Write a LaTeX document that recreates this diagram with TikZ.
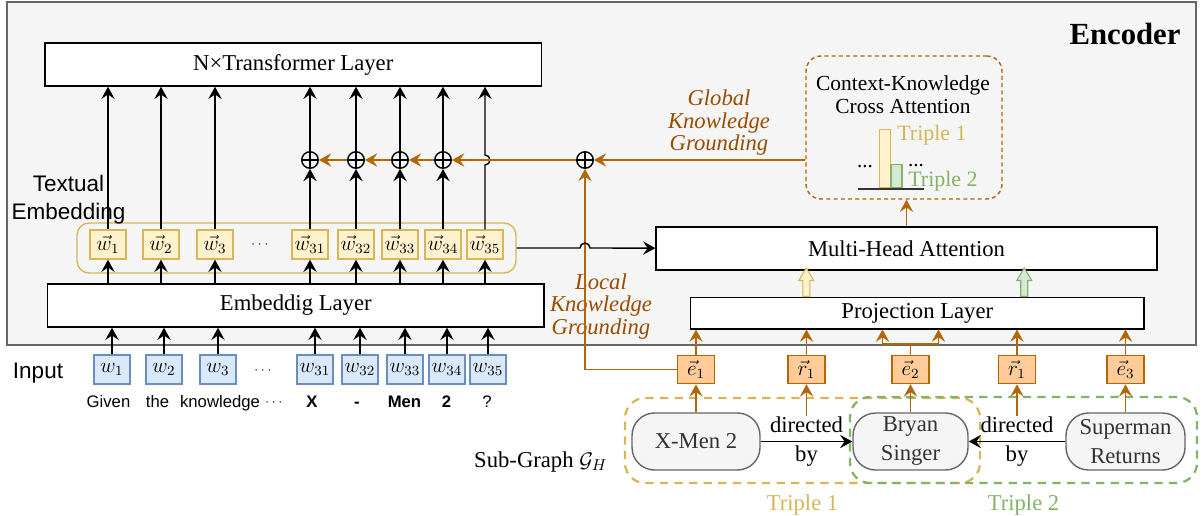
\documentclass[tikz,border=0pt]{standalone}
\usepackage{fontspec}
\setmainfont{Liberation Serif}
\setsansfont{Liberation Sans}
\usepackage{amsmath}
\usetikzlibrary{arrows.meta,positioning}

\definecolor{encbg}{HTML}{F5F5F5}
\definecolor{encline}{HTML}{666666}
\definecolor{kgbrown}{HTML}{B46504}
\definecolor{kgtext}{HTML}{994C00}
\definecolor{yfill}{HTML}{FFF2CC}
\definecolor{yline}{HTML}{D6B656}
\definecolor{bfill}{HTML}{DAE8FC}
\definecolor{bline}{HTML}{6C8EBF}
\definecolor{gfill}{HTML}{D5E8D4}
\definecolor{gline}{HTML}{82B366}
\definecolor{ofill}{HTML}{FFCC99}

\begin{document}
\begin{tikzpicture}[x=0.02cm, y=-0.02cm, node distance=1cm, line width=0.8pt,
   >={Stealth[length=7pt,width=7.6pt,inset=2.6pt]}]
\tikzset{
   layer/.style={rectangle, draw=black, fill=white, line width=0.8pt, minimum width=9.93cm, minimum height=0.86cm, font=\fontsize{12.9}{15}\selectfont},
   wvec/.style={rectangle, draw=yline, fill=yfill, minimum width=0.72cm, minimum height=0.58cm, inner sep=0pt, font=\fontsize{11.5}{13}\selectfont},
   wtok/.style={rectangle, draw=bline, fill=bfill, minimum width=0.72cm, minimum height=0.58cm, inner sep=0pt, font=\fontsize{11.5}{13}\selectfont},
   kgvec/.style={rectangle, draw=kgbrown, fill=ofill, minimum width=0.74cm, minimum height=0.56cm, inner sep=0pt, font=\fontsize{11.5}{13}\selectfont},
   entity/.style={rectangle, rounded corners=0.45cm, draw=encline, fill=encbg, minimum height=1.14cm, inner sep=0pt, align=center, text=black!80, font=\fontsize{12.9}{16.5}\selectfont},
   rel/.style={inner sep=0pt, align=center, font=\fontsize{12.9}{16.5}\selectfont},
   word/.style={anchor=base, font=\sffamily\fontsize{9.5}{11}\selectfont},
   oplus/.style={circle, draw=black, fill=encbg, inner sep=0pt, minimum size=0.33cm, path picture={\draw[line width=0.7pt] (path picture bounding box.north) -- (path picture bounding box.south) (path picture bounding box.west) -- (path picture bounding box.east);}},
   kgarrow/.style={->, draw=kgbrown},
   kglabel/.style={align=center, text=kgtext, font=\itshape\fontsize{12.9}{12.8}\selectfont},
   triple/.style={rectangle, rounded corners=0.4cm, dash pattern=on 4.7pt off 3.6pt, line width=1.3pt},
   hollow/.style={line width=0.6pt},
}
\useasboundingbox (0,0) rectangle (1203,515);

% encoder frame
\node[rectangle, draw=encline, fill=encbg, line width=0.9pt, minimum width=23.78cm, minimum height=6.86cm] (encoder) at (601.5,173.5) {};
\node[anchor=base, font=\bfseries\fontsize{17.5}{20}\selectfont] (enctitle) at (1125,44.3) {Encoder};

% text side
\node[layer] (trans) at (293.25,64.5) {N×Transformer Layer};
\node[layer] (embed) at (295.75,305.5) {Embeddig Layer};
\node[rectangle, rounded corners=0.24cm, draw=yline, line width=0.8pt, minimum width=8.78cm, minimum height=1cm] (embgroup) at (296.5,248) {};
\node[align=center, font=\sffamily\fontsize{12.8}{16.3}\selectfont] (textemb) at (68.5,199.5) {Textual\\Embedding};

\node[wvec] (w1) at (108,244.5) {$\vec{w}_1$};
\node[wvec] (w2) at (161,244.5) {$\vec{w}_2$};
\node[wvec] (w3) at (215,244.5) {$\vec{w}_3$};
\node[font=\fontsize{7}{8}\selectfont] (wdots) at (261,244.5) {$\cdots$};
\node[wvec] (w31) at (310,244.5) {$\vec{w}_{31}$};
\node[wvec] (w32) at (356,244.5) {$\vec{w}_{32}$};
\node[wvec] (w33) at (400,244.5) {$\vec{w}_{33}$};
\node[wvec] (w34) at (443,244.5) {$\vec{w}_{34}$};
\node[wvec] (w35) at (485,244.5) {$\vec{w}_{35}$};

\node[oplus] (p31) at (310,160) {};
\node[oplus] (p32) at (356,160) {};
\node[oplus] (p33) at (400,160) {};
\node[oplus] (p34) at (443,160) {};
\node[oplus] (pkg) at (585,160) {};

\node[anchor=base, font=\sffamily\fontsize{12.8}{15}\selectfont] (inputlbl) at (38,378) {Input};
\node[wtok] (in1) at (112,369.5) {$w_1$};
\node[wtok] (in2) at (164,369.5) {$w_2$};
\node[wtok] (in3) at (218,369.5) {$w_3$};
\node[font=\fontsize{7}{8}\selectfont] (indots) at (264,371) {$\cdots$};
\node[wtok] (in31) at (315,369.5) {$w_{31}$};
\node[wtok] (in32) at (360,369.5) {$w_{32}$};
\node[wtok] (in33) at (405,369.5) {$w_{33}$};
\node[wtok] (in34) at (447,369.5) {$w_{34}$};
\node[wtok] (in35) at (488,369.5) {$w_{35}$};

\node[word] (tk1) at (108.5,407.5) {Given};
\node[word] (tk2) at (157.5,407.5) {the};
\node[word] (tk3) at (220,407.5) {knowledge};
\node[font=\fontsize{7}{8}\selectfont] (tkdots) at (275,402.5) {$\cdots$};
\node[word] (tk31) at (312,407.5) {\bfseries X};
\node[word] (tk32) at (357,407.5) {\bfseries -};
\node[word] (tk33) at (404.5,407.5) {\bfseries Men};
\node[word] (tk34) at (446.5,407.5) {\bfseries 2};
\node[word] (tk35) at (487,407.5) {?};

\draw[->] (in1) -- (in1 |- embed.south);
\draw[->] (in2) -- (in2 |- embed.south);
\draw[->] (in3) -- (in3 |- embed.south);
\draw[->] (in31) -- (in31 |- embed.south);
\draw[->] (in32) -- (in32 |- embed.south);
\draw[->] (in33) -- (in33 |- embed.south);
\draw[->] (in34) -- (in34 |- embed.south);
\draw[->] (in35) -- (in35 |- embed.south);

\draw[->] (embed.north -| w1) -- (w1);
\draw[->] (embed.north -| w2) -- (w2);
\draw[->] (embed.north -| w3) -- (w3);
\draw[->] (embed.north -| w31) -- (w31);
\draw[->] (embed.north -| w32) -- (w32);
\draw[->] (embed.north -| w33) -- (w33);
\draw[->] (embed.north -| w34) -- (w34);
\draw[->] (embed.north -| w35) -- (w35);

\draw[->] (w1) -- (w1 |- trans.south);
\draw[->] (w2) -- (w2 |- trans.south);
\draw[->] (w3) -- (w3 |- trans.south);
\draw[->] (w31) -- (p31);
\draw[->] (w32) -- (p32);
\draw[->] (w33) -- (p33);
\draw[->] (w34) -- (p34);
\draw[->] (p31) -- (p31 |- trans.south);
\draw[->] (p32) -- (p32 |- trans.south);
\draw[->] (p33) -- (p33 |- trans.south);
\draw[->] (p34) -- (p34 |- trans.south);
\draw[->] (w35) -- ([yshift=-0.1cm]w35 |- pkg) arc[start angle=-90, end angle=90, radius=0.1cm] -- (w35 |- trans.south);

% knowledge side
\node[layer, minimum width=10.02cm] (mha) at (906.5,248.5) {Multi-Head Attention};
\node[layer, minimum width=9.07cm, minimum height=0.56cm] (proj) at (917.25,313) {Projection Layer};

\node[rectangle, rounded corners=0.3cm, draw=kgbrown, dash pattern=on 2.3pt off 1.8pt, minimum width=3.92cm, minimum height=2.86cm] (ckca) at (904,127.5) {};
\node[align=center, font=\fontsize{12.2}{13.1}\selectfont] (ckcatext) at (903,94.5) {Context-Knowledge\\Cross Attention};
\draw[yline, fill=yfill, line width=0.6pt] (879.5,129.5) rectangle (890.5,187.5);
\draw[gline, fill=gfill, line width=0.6pt] (891,164.5) rectangle (902,187.5);
\draw[black!80, line width=0.8pt] (858,189) -- (924,189);
\node[anchor=base, font=\fontsize{12}{13}\selectfont] (bardots1) at (865,167) {...};
\node[anchor=base, font=\fontsize{12}{13}\selectfont] (bardots2) at (916,166) {...};
\node[anchor=base, text=yline, font=\fontsize{12.5}{14}\selectfont] (bar1) at (932,140) {Triple 1};
\node[anchor=base, text=gline, font=\fontsize{12.5}{14}\selectfont] (bar2) at (943,186) {Triple 2};

\node[kglabel] (globalkg) at (719,123) {Global\\Knowledge\\Grounding};
\node[kglabel] (localkg) at (601,306.5) {Local\\Knowledge\\Grounding};

\draw[kgarrow] (mha.north) -- (mha.north |- ckca.south);
\draw[kgarrow] (ckca.west |- pkg) -- (pkg);
\draw[kgarrow] (pkg) -- (p34);
\draw[kgarrow] (p34) -- (p33);
\draw[kgarrow] (p33) -- (p32);
\draw[kgarrow] (p32) -- (p31);

\draw[yline, fill=yfill, hollow] ([xshift=-2.22cm]proj.north) ++(-3.5,0) -- ++(0,-16) -- ++(-4,0) -- ++(7.5,-12.5) -- ++(7.5,12.5) -- ++(-4,0) -- ++(0,16) -- cycle;
\draw[gline, fill=gfill, hollow] ([xshift=2.14cm]proj.north) ++(-3.5,0) -- ++(0,-16) -- ++(-4,0) -- ++(7.5,-12.5) -- ++(7.5,12.5) -- ++(-4,0) -- ++(0,16) -- cycle;

% sub-graph
\node[triple, draw=yline, minimum width=7.1cm, minimum height=1.7cm] (t1box) at (802.5,440.5) {};
\node[triple, draw=gline, minimum width=6.94cm, minimum height=1.72cm] (t2box) at (1023.5,440) {};
\node[text=yline, below=0.08cm of t1box, font=\fontsize{12.9}{15}\selectfont] (t1label) {Triple 1};
\node[text=gline, below=0.08cm of t2box, font=\fontsize{12.9}{15}\selectfont] (t2label) {Triple 2};
\node[anchor=base east, font=\fontsize{12.9}{15}\selectfont] (subgraph) at (614,467) {Sub-Graph $\mathcal{G}_H$};

\node[entity, minimum width=2.56cm] (xmen) at (696,441.5) {X-Men 2};
\node[entity, minimum width=2.3cm] (bryan) at (910.5,441.5) {Bryan\\Singer};
\node[entity, minimum width=2.38cm] (superman) at (1125.5,441.5) {Superman\\Returns};

\draw[->] (xmen) -- node[rel] (rel1) {directed\\by} (bryan);
\draw[->] (superman) -- node[rel] (rel2) {directed\\by} (bryan);

\node[kgvec, above=0.56cm of xmen] (e1) {$\vec{e}_1$};
\node[kgvec] (r1) at (rel1 |- e1) {$\vec{r}_1$};
\node[kgvec, above=0.56cm of bryan] (e2) {$\vec{e}_2$};
\node[kgvec] (r1b) at (rel2 |- e1) {$\vec{r}_1$};
\node[kgvec, above=0.56cm of superman] (e3) {$\vec{e}_3$};

\draw[kgarrow] (xmen) -- (e1);
\draw[kgarrow] (rel1) -- (r1);
\draw[kgarrow] (bryan) -- (e2);
\draw[kgarrow] (rel2) -- (r1b);
\draw[kgarrow] (superman) -- (e3);

\draw[kgarrow] (e1) -- (e1 |- proj.south);
\draw[kgarrow] (r1) -- (r1 |- proj.south);
\draw[kgarrow] (r1b) -- (r1b |- proj.south);
\draw[kgarrow] (e3) -- (e3 |- proj.south);
\draw[draw=kgbrown] (e2.north) -- ++(0,-11) coordinate (e2split);
\draw[kgarrow] (e2split) -| ([xshift=-0.56cm]e2split |- proj.south);
\draw[kgarrow] (e2split) -| ([xshift=0.56cm]e2split |- proj.south);

% local grounding and the bridge over it
\draw[kgarrow] (e1) -- (pkg |- e1) -- (pkg);
\draw[->] (embgroup) -- ([xshift=-0.1cm]pkg |- embgroup) arc[start angle=180, end angle=0, radius=0.1cm] -- (mha);

\end{tikzpicture}
\end{document}
